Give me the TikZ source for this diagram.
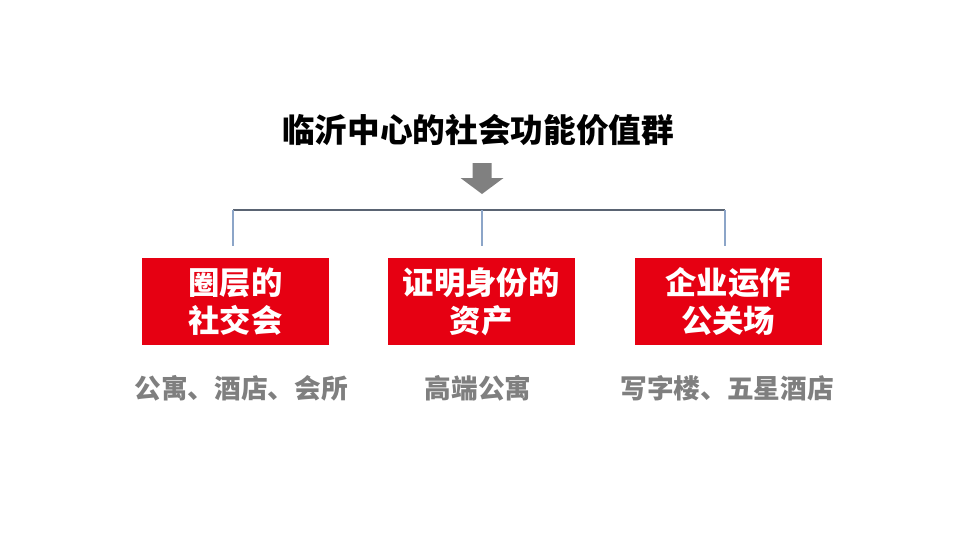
\documentclass[tikz,border=0pt]{standalone}
\usepackage{fontspec}
\setmainfont{Noto Sans CJK SC}
\usetikzlibrary{positioning}

\definecolor{boxred}{RGB}{230,0,18}
\definecolor{subgray}{RGB}{127,127,127}
\definecolor{arrgray}{RGB}{128,128,128}
\definecolor{linegray}{RGB}{90,100,115}
\definecolor{lineblue}{RGB}{140,165,200}

\tikzset{
    redbox/.style={fill=boxred, text=white, font=\bfseries\fontsize{23.5}{28.5}\selectfont,
        minimum width=140.25pt, minimum height=65.25pt, align=center, inner sep=0pt},
    sublabel/.style={text=subgray, font=\bfseries\fontsize{20}{24}\selectfont, inner sep=0pt},
}

\begin{document}
\begin{tikzpicture}[x=0.75pt, y=-0.75pt]
\useasboundingbox (0,0) rectangle (960,540);

% Title
\node[font=\bfseries\fontsize{24.5}{28}\selectfont, inner sep=0pt] (title) at (478,130) {临沂中心的社会功能价值群};

% Down arrow
\coordinate (arrtip) at (482,194);
\fill[arrgray] (arrtip) -- ++(-21.5,-16) -- ++(12,0) -- ++(0,-15) -- ++(19,0)
    -- ++(0,15) -- ++(12,0) -- cycle;

% Boxes
\node[redbox] (social) at (235.5,301.5) {圈层的\\社交会};
\node[redbox] (asset) at (481,301.5) {证明身份的\\资产};
\node[redbox] (biz) at (728,301.5) {企业运作\\公关场};

% Sub labels
\node[sublabel] (socialsub) at (241,388) {公寓、酒店、会所};
\node[sublabel] (assetsub) at (478,388) {高端公寓};
\node[sublabel] (bizsub) at (727,388) {写字楼、五星酒店};

% Bracket
\coordinate (barl) at (233,210);
\coordinate (barm) at (482,210);
\coordinate (barr) at (725,210);
\draw[linegray, line width=1.2pt] (barl) -- (barr);
\foreach \c in {barl,barm,barr}
    \draw[lineblue, line width=1pt] (\c) -- ++(0,36);

\end{tikzpicture}
\end{document}
